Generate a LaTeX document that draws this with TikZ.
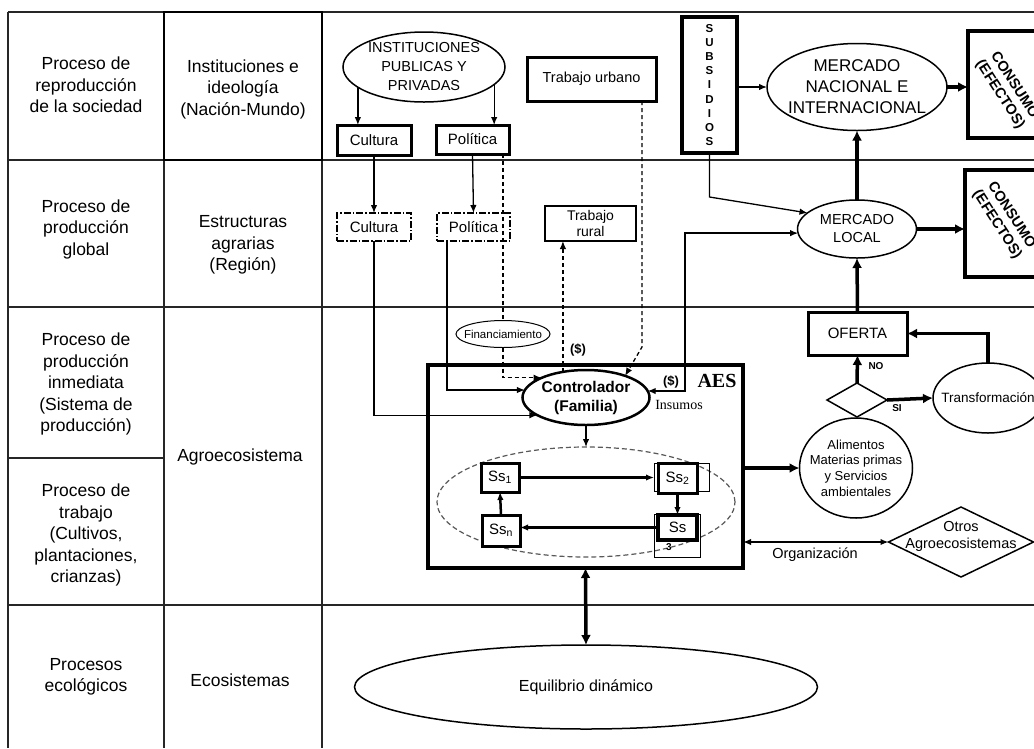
\documentclass[tikz,border=0pt]{standalone}
\usepackage{fontspec}
\setmainfont{Liberation Sans}
\newfontfamily\serifnt{Liberation Serif}
\usetikzlibrary{shapes.geometric,arrows.meta,calc}
\newcommand{\fsz}[2]{\fontsize{#1pt}{#2pt}\selectfont}
\begin{document}
\begin{tikzpicture}[x=1pt,y=-1pt,
 every node/.style={inner sep=0pt, outer sep=0pt},
 lbl/.style={align=center, font=\fsz{17.5}{21.5}},
 tbl/.style={line width=1.3pt, draw=black!85},
 box/.style={draw, rectangle, fill=white, line width=#1, align=center},
 box/.default=3pt,
 ell/.style={draw, ellipse, fill=white, line width=1.5pt, align=center},
 ln/.style={line width=1.3pt},
 thk/.style={line width=3.5pt},
 arr/.style={-{Latex[length=8pt,width=6.5pt]}},
 darr/.style={{Latex[length=8pt,width=6.5pt]}-{Latex[length=8pt,width=6.5pt]}},
 tarr/.style={-{Latex[length=10pt,width=10pt]}},
 tdarr/.style={{Latex[length=10pt,width=10pt]}-{Latex[length=10pt,width=10pt]}},
 dsh/.style={dash pattern=on 4pt off 3pt},
 ddot/.style={dash pattern=on 7pt off 2pt on 1.5pt off 2pt},
 ssbox/.style={box=3pt, font=\fsz{15}{18}},
]
\fill[white] (0,0) rectangle (1034,748);
\useasboundingbox (0,0) rectangle (1034,748);

% table
\draw[tbl] (8,12) -- (1034,12);
\draw[tbl] (8,12) -- (8,748);
\draw[tbl] (164,12) -- (164,748);
\draw[tbl] (322,12) -- (322,748);
\draw[tbl] (8,160) -- (1034,160);
\draw[tbl] (8,307) -- (1034,307);
\draw[tbl] (8,458) -- (164,458);
\draw[tbl] (8,605) -- (1034,605);
\draw[line width=2.8pt] (164,12) rectangle (322,160);

\node[lbl] (p1) at (86,85) {Proceso de\\reproducción\\de la sociedad};
\node[lbl] (p2) at (86,229) {Proceso de\\producción\\global};
\node[lbl] (p3) at (86,384) {Proceso de\\producción\\inmediata\\(Sistema de\\producción)};
\node[lbl] (p4) at (86,535) {Proceso de\\trabajo\\(Cultivos,\\plantaciones,\\crianzas)};
\node[lbl] (p5) at (86,677) {Procesos\\ecológicos};
\node[lbl] (c1) at (243,89) {Instituciones e\\ideología\\(Nación-Mundo)};
\node[lbl] (c2) at (243,245) {Estructuras\\agrarias\\(Región)};
\node[lbl] (c3) at (240,457) {Agroecosistema};
\node[lbl] (c4) at (240,680) {Ecosistemas};

% AES box and contents
\node[box=4pt, minimum width=315pt, minimum height=203pt] (aes) at (585.5,466.5) {};
\node[font=\serifnt\bfseries\fsz{20}{24}] (aeslbl) at (717,381) {AES};
\node[draw=black!65, ellipse, line width=1.2pt, dash pattern=on 5pt off 3pt, minimum width=298pt, minimum height=110pt] (dell) at (586,502) {};

% upper nodes
\node[ell, inner sep=-2pt, minimum width=162pt, minimum height=70pt, font=\fsz{14.5}{19}] (inst) at (424,67) {INSTITUCIONES\\PUBLICAS Y\\PRIVADAS};
\node[box=3pt, minimum width=74pt, minimum height=30pt, font=\fsz{15}{18}] (cult1) at (374,140) {Cultura};
\node[box=3pt, minimum width=73pt, minimum height=29pt, font=\fsz{15}{18}] (pol1) at (472.5,139.5) {Política};
\node[box=3pt, minimum width=129pt, minimum height=44pt, font=\fsz{14.5}{18}] (turb) at (591.5,79) {Trabajo urbano};
\node[box=2.5pt, ddot, minimum width=74pt, minimum height=28pt, font=\fsz{15}{18}] (cult2) at (374,227) {Cultura};
\node[box=2.5pt, ddot, minimum width=73pt, minimum height=28pt, font=\fsz{15}{18}] (pol2) at (473.5,227) {Política};
\node[box=2.5pt, minimum width=91pt, minimum height=35pt, font=\fsz{14}{16.5}] (trur) at (590.5,223.5) {Trabajo\\rural};
\node[box=4pt, minimum width=55pt, minimum height=136pt, font=\bfseries\fsz{11.5}{14.1}] (subs) at (709.5,85) {S\\U\\B\\S\\I\\D\\I\\O\\S};
\node[ell, inner xsep=-8pt, minimum width=180pt, minimum height=87pt, font=\fsz{17}{21}] (mni) at (857,87) {MERCADO\\NACIONAL E\\INTERNACIONAL};
\node[box=4pt, minimum width=100pt, minimum height=107pt] (cons1) at (1018,84.5) {};
\node[font=\bfseries\fsz{14.5}{17}, rotate=-57, align=center] (cons1t) at (1007,90) {CONSUMO\\(EFECTOS)};
\node[box=4pt, minimum width=100pt, minimum height=107pt] (cons2) at (1015,223.5) {};
\node[font=\bfseries\fsz{14.5}{17}, rotate=-57, align=center] (cons2t) at (1004,220) {CONSUMO\\(EFECTOS)};
\node[ell, minimum width=119pt, minimum height=58pt, font=\fsz{14.5}{18}] (mloc) at (857,229) {MERCADO\\LOCAL};
\node[box=3pt, minimum width=99pt, minimum height=43pt, font=\fsz{15}{18}] (ofer) at (857.5,333.5) {OFERTA};
\node[draw, diamond, fill=white, line width=1.5pt, minimum width=60pt, minimum height=34pt] (dia) at (857,400) {};
\node[ell, inner xsep=-9pt, minimum width=110pt, minimum height=70pt, font=\fsz{13.5}{16}] (trans) at (988,398) {Transformación};
\node[ell, inner xsep=-7pt, minimum width=113pt, minimum height=100pt, font=\fsz{13}{15.6}] (alim) at (856,468) {Alimentos\\Materias primas\\y Servicios\\ambientales};
\node[draw, diamond, fill=white, line width=1.5pt, minimum width=145pt, minimum height=70pt] (otros) at (961,542) {};
\node[font=\fsz{14.5}{17}, align=center] (otrost) at (961,536) {Otros\\Agroecosistemas};

\node[ell, line width=2.5pt, minimum width=127pt, minimum height=55pt, font=\bfseries\fsz{15.5}{19}] (ctrl) at (586,397.5) {Controlador\\(Familia)};
\node[font=\bfseries\fsz{13}{15}] (dol1) at (578,350) {(\$)};
\node[font=\bfseries\fsz{13}{15}] (dol2) at (671,382) {(\$)};
\node[font=\serifnt\fsz{14}{16}] (insu) at (679,405) {Insumos};
\node[ell, line width=1pt, inner xsep=-8pt, minimum width=94pt, minimum height=27pt, font=\fsz{11.5}{13}] (fin) at (503,334) {Financiamiento};

\node[ssbox, minimum width=38pt, minimum height=29pt] (ss1) at (500,477.5) {Ss\textsubscript{1}};
\node[draw, line width=1pt, minimum width=55pt, minimum height=28pt] (ss2b) at (681.5,477) {};
\node[ssbox, minimum width=39pt, minimum height=30pt] (ss2) at (677.5,478) {Ss\textsubscript{2}};
\node[draw, line width=1pt, minimum width=46pt, minimum height=43pt] (ss3b) at (677,535.5) {};
\node[ssbox, line width=4pt, minimum width=39pt, minimum height=25pt] (ss3) at (677.5,527.5) {Ss};
\node[font=\bfseries\fsz{10}{11}] (ss3sub) at (669,547) {3};
\node[ssbox, minimum width=38pt, minimum height=31pt] (ssn) at (501,530.5) {Ss\textsubscript{n}};

\node[ell, minimum width=463pt, minimum height=84pt, font=\fsz{16}{19}] (equi) at (586,687) {Equilibrio dinámico};

\node[font=\bfseries\fsz{10}{12}] (nolbl) at (876,366) {NO};
\node[font=\bfseries\fsz{10}{12}] (silbl) at (897,408) {SI};
\node[font=\fsz{14.5}{17}] (orglbl) at (815,555) {Organización};

% connectors
\draw[ln,arr] (inst.197) -- (inst.197 |- cult1.north);
\draw[ln,arr] (inst.-14) -- (inst.-14 |- pol1.north);
\draw[ln,arr] (cult1.south) -- (cult2.north);
\draw[ln,arr] (pol1.south) -- (pol2.north);
\draw[ln,arr] (cult2.south) |- (ctrl.200);
\draw[ln,arr] ([xshift=10pt]pol2.south west) |- (ctrl.173);
\draw[ln,dsh] ([xshift=-6pt]pol1.south east) -- (fin.north);
\draw[ln,dsh,arr] (fin.south) |- (ctrl.156);
\coordinate (tb) at (642,347);
\draw[ln,dsh,arr] ([xshift=-14pt]turb.south east) -- (tb) -- (ctrl.29);
\draw[ln,dsh,arr] (ctrl.132) -- (ctrl.132 |- trur.south);
\draw[ln,arr] (subs.east |- mni.west) -- (mni.west);
\draw[thk,tarr] (mni.east) -- (mni.east -| cons1.west);
\coordinate (sb) at (709.5,197);
\draw[ln,arr] (subs.south) -- (sb) -- (mloc.162);
\coordinate (mc) at (685,300);
\draw[ln,darr] (ctrl.6) -| (mloc.184 -| mc) -- (mloc.184);
\draw[thk,tarr] (mloc.north) -- (mni.south);
\draw[thk,tarr] (mloc.east) -- (mloc.east -| cons2.west);
\draw[thk,tarr] (ofer.north) -- (mloc.south);
\draw[thk,tarr] (dia.north) -- (ofer.south);
\draw[thk,tarr] (dia.east) -- (trans.west);
\draw[thk,tarr] (trans.north) |- (ofer.east);
\draw[thk,tarr] (aes.east |- alim.west) -- (alim.west);
\draw[line width=2.5pt,darr] (aes.east |- otros.west) -- (otros.west);
\draw[thk,tdarr] (aes.south) -- (equi.north);
\draw[ln,arr] (ctrl.south) -- (dell.north);
\draw[line width=2.5pt,arr] (ss1.east) -- (ss1.east -| ss2b.west);
\draw[line width=2.5pt,arr] (ss2.south) -- (ss3.north);
\draw[line width=2.5pt,arr] (ss3.west) -- (ss3.west -| ssn.east);
\draw[line width=2.5pt,arr] (ssn.north) -- (ss1.south);
\end{tikzpicture}
\end{document}
